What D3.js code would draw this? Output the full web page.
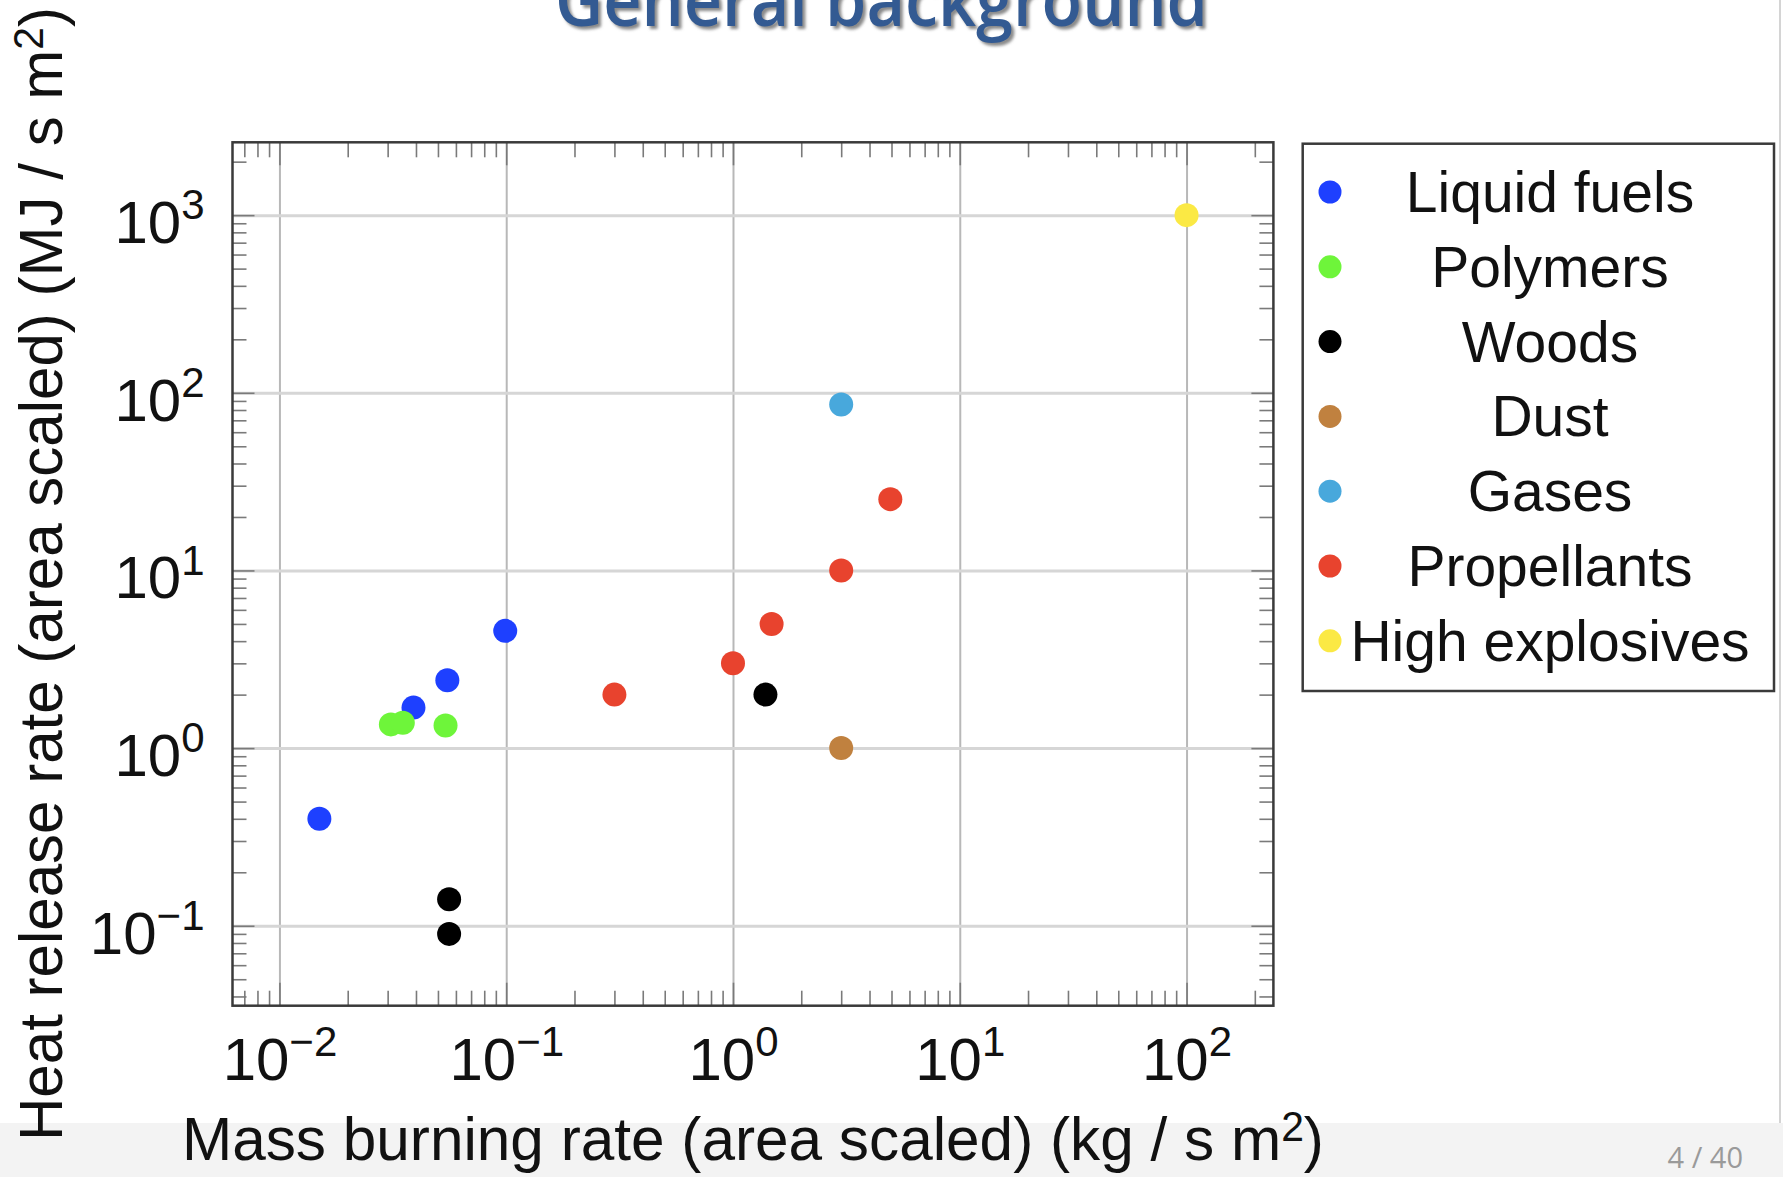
<!DOCTYPE html>
<html>
<head>
<meta charset="utf-8">
<script src="https://cdn.jsdelivr.net/npm/d3@7"></script>
<style>
  body { margin: 0; background: #fff; }
  svg { display: block; }
  text { font-family: "Liberation Sans", Arial, sans-serif; }
</style>
</head>
<body>
<div id="container"></div>
<script>
// categories shown in the legend
const categories = ["Liquid fuels", "Polymers", "Woods", "Dust", "Gases", "Propellants", "High explosives"];
const colors = ["#1e40ff", "#6ef53a", "#000000", "#c0813f", "#48a8dc", "#e8432e", "#fbe944"];

// [mass burning rate, heat release rate] per category
const liquidFuels = [[0.015, 0.40], [0.039, 1.69], [0.055, 2.41], [0.099, 4.57]];
const polymers = [[0.031, 1.36], [0.035, 1.39], [0.054, 1.34]];
const woods = [[0.056, 0.141], [0.056, 0.090], [1.39, 2.0]];
const dust = [[3.0, 1.0]];
const gases = [[3.0, 86]];
const propellants = [[0.30, 2.0], [1.0, 3.0], [1.48, 5.0], [3.0, 10], [4.94, 25.2]];
const highExplosives = [[100, 1000]];
const series = [liquidFuels, polymers, woods, dust, gases, propellants, highExplosives];

// tick values and labels (exponents of ten)
const xTicks = [1e-2, 1e-1, 1e0, 1e1, 1e2];
const xTickLabels = ["\u22122", "\u22121", "0", "1", "2"];
const yTicks = [1e-1, 1e0, 1e1, 1e2, 1e3];
const yTickLabels = ["\u22121", "0", "1", "2", "3"];

const w = 1783;
const h = 1177;
const plotL = 232.5, plotR = 1273.4, plotT = 142.3, plotB = 1005.7;

const svg = d3.select("#container")
              .append("svg")
              .attr("width", w)
              .attr("height", h);

// slide footer band
svg.append("rect")
   .attr("x", 0).attr("y", 1123)
   .attr("width", w).attr("height", h - 1123)
   .attr("fill", "#f3f3f3");
svg.append("line")
   .attr("x1", 1780).attr("x2", 1780).attr("y1", 0).attr("y2", 1123)
   .attr("stroke", "#d4d4d4").attr("stroke-width", 2);
svg.append("text")
   .attr("x", 1743).attr("y", 1168)
   .attr("text-anchor", "end")
   .style("font-family", "'Open Sans', sans-serif")
   .style("font-size", "29px")
   .attr("fill", "#9a9a9a")
   .text("4 / 40");

// slide title with shadow
const defs = svg.append("defs");
defs.append("filter").attr("id", "blur")
    .append("feGaussianBlur").attr("stdDeviation", 1.5);
[["#8a8a8a", 3, "url(#blur)"], ["#335a92", 0, null]].forEach(function(t){
    svg.append("text")
       .attr("x", 555 + t[1]).attr("y", 26 + t[1])
       .attr("textLength", 653)
       .attr("lengthAdjust", "spacingAndGlyphs")
       .attr("filter", t[2])
       .style("font-family", "'Open Sans', sans-serif")
       .style("font-size", "72px")
       .style("font-weight", "600")
       .attr("fill", t[0])
       .text("General background");
});

// scales
const xScale = d3.scaleLog()
                 .domain([Math.pow(10, -2.207), Math.pow(10, 2.383)])
                 .range([plotL, plotR]);
const yScale = d3.scaleLog()
                 .domain([Math.pow(10, -1.45), Math.pow(10, 3.41)])
                 .range([plotB, plotT]);

// minor tick values inside the domains
function minors(scale){
    const d = scale.domain();
    const out = [];
    for (let e = Math.floor(Math.log10(d[0])); e <= Math.ceil(Math.log10(d[1])); e++) {
        for (let m = 2; m <= 9; m++) {
            const v = m * Math.pow(10, e);
            if (v > d[0] && v < d[1]) out.push(v);
        }
    }
    return out;
}

// grid lines
svg.append("g")
   .attr("transform", "translate(0," + plotB + ")")
   .call(d3.axisBottom(xScale).tickValues(xTicks).tickSize(-(plotB - plotT)).tickFormat(""))
   .call(g => g.select(".domain").remove())
   .call(g => g.selectAll("line").attr("stroke", "#b8b8b8").attr("stroke-width", 2));
svg.append("g")
   .attr("transform", "translate(" + plotL + ",0)")
   .call(d3.axisLeft(yScale).tickValues(yTicks).tickSize(-(plotR - plotL)).tickFormat(""))
   .call(g => g.select(".domain").remove())
   .call(g => g.selectAll("line").attr("stroke", "#d6d6d6").attr("stroke-width", 3));

// inward ticks on all four sides
function ticks(axis, transform, values, size){
    svg.append("g")
       .attr("transform", transform)
       .call(axis.tickValues(values).tickSizeInner(-size).tickSizeOuter(0).tickFormat(""))
       .call(g => g.select(".domain").remove())
       .call(g => g.selectAll("line").attr("stroke", "#7a7a7a").attr("stroke-width", 1.6));
}
ticks(d3.axisBottom(xScale), "translate(0," + plotB + ")", minors(xScale), 15);
ticks(d3.axisTop(xScale), "translate(0," + plotT + ")", minors(xScale), 15);
ticks(d3.axisBottom(xScale), "translate(0," + plotB + ")", xTicks, 23);
ticks(d3.axisTop(xScale), "translate(0," + plotT + ")", xTicks, 23);
ticks(d3.axisLeft(yScale), "translate(" + plotL + ",0)", minors(yScale), 14);
ticks(d3.axisRight(yScale), "translate(" + plotR + ",0)", minors(yScale), 14);
ticks(d3.axisLeft(yScale), "translate(" + plotL + ",0)", yTicks, 22);
ticks(d3.axisRight(yScale), "translate(" + plotR + ",0)", yTicks, 22);

// frame
svg.append("rect")
   .attr("x", plotL).attr("y", plotT)
   .attr("width", plotR - plotL).attr("height", plotB - plotT)
   .attr("fill", "none")
   .attr("stroke", "#3a3a3a")
   .attr("stroke-width", 2.5);

// tick labels as 10 with superscript exponent
const xLab = svg.append("g")
   .attr("transform", "translate(0," + plotB + ")")
   .call(d3.axisBottom(xScale).tickValues(xTicks).tickSize(0).tickFormat(() => "10"));
xLab.select(".domain").remove();
xLab.selectAll(".tick text")
    .attr("y", 74).attr("dy", null)
    .attr("fill", "#111")
    .style("font-size", "60px")
    .append("tspan")
    .attr("dy", "-0.57em")
    .style("font-size", "42px")
    .text((d, i) => xTickLabels[i]);

const yLab = svg.append("g")
   .attr("transform", "translate(" + plotL + ",0)")
   .call(d3.axisLeft(yScale).tickValues(yTicks).tickSize(0).tickFormat(() => "10"));
yLab.select(".domain").remove();
yLab.selectAll(".tick text")
    .attr("x", -28).attr("dy", null).attr("y", 27.5)
    .attr("fill", "#111")
    .style("font-size", "60px")
    .append("tspan")
    .attr("dy", "-0.57em")
    .style("font-size", "42px")
    .text((d, i) => yTickLabels[i]);

// points
series.forEach(function(pts, i){
    svg.append("g")
       .selectAll("circle")
       .data(pts)
       .enter()
       .append("circle")
       .attr("cx", d => xScale(d[0]))
       .attr("cy", d => yScale(d[1]))
       .attr("r", 12)
       .attr("fill", colors[i]);
});

// axis labels
const xl = svg.append("text")
   .attr("x", (plotL + plotR) / 2)
   .attr("y", 1160)
   .attr("text-anchor", "middle")
   .attr("textLength", 1142)
   .attr("lengthAdjust", "spacingAndGlyphs")
   .attr("fill", "#111")
   .style("font-size", "62px")
   .text("Mass burning rate (area scaled) (kg / s m");
xl.append("tspan").attr("dy", "-0.45em").style("font-size", "42px").text("2");
xl.append("tspan").attr("dy", "0.31em").text(")");

const yl = svg.append("text")
   .attr("transform", "translate(62," + (plotT + plotB) / 2 + ")rotate(-90)")
   .attr("text-anchor", "middle")
   .attr("textLength", 1134)
   .attr("lengthAdjust", "spacingAndGlyphs")
   .attr("fill", "#111")
   .style("font-size", "62px")
   .text("Heat release rate (area scaled) (MJ / s m");
yl.append("tspan").attr("dy", "-0.45em").style("font-size", "42px").text("2");
yl.append("tspan").attr("dy", "0.31em").text(")");

// legend
svg.append("rect")
   .attr("x", 1302.7).attr("y", 143.7)
   .attr("width", 1774 - 1302.7).attr("height", 691 - 143.7)
   .attr("fill", "#fff")
   .attr("stroke", "#3a3a3a")
   .attr("stroke-width", 2.5);
categories.forEach(function(c, i){
    const y = 192 + i * 74.8;
    svg.append("circle")
       .attr("cx", 1330).attr("cy", y).attr("r", 11.5)
       .attr("fill", colors[i]);
    svg.append("text")
       .attr("x", 1550).attr("y", y + 20)
       .attr("text-anchor", "middle")
       .attr("fill", "#111")
       .style("font-size", "57px")
       .text(c);
});
</script>
</body>
</html>
